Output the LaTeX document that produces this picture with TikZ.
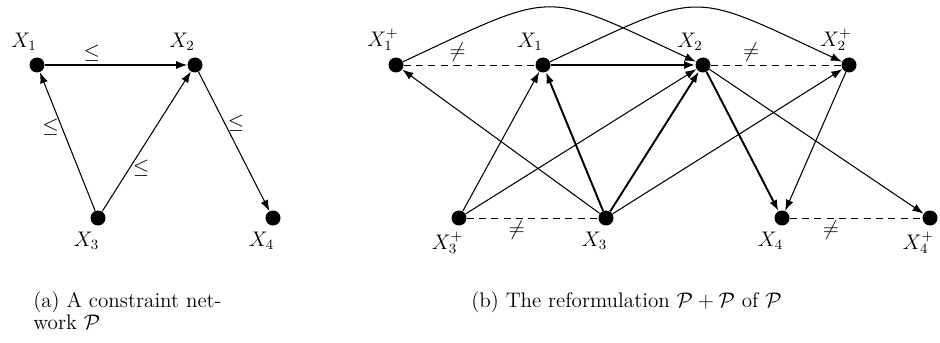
\documentclass[tikz,border=0pt]{standalone}
\usetikzlibrary{positioning,arrows.meta}

\begin{document}
\begin{tikzpicture}[
  every node/.style={font=\fontsize{12}{12.5}\selectfont},
  dot/.style={circle, fill=black, inner sep=0pt, minimum size=3mm},
  arr/.style={-{Latex[length=2.2mm, width=1.6mm]}, line width=0.6pt},
  thickarr/.style={arr, line width=1.1pt},
  neq/.style={dash pattern=on 4pt off 3pt, line width=0.5pt},
  rel/.style={inner sep=1.5pt},
  lblup/.style={label={[xshift=-2.6mm]above:#1}},
  lbldown/.style={label={[xshift=-2.3mm]below:#1}}
]
\useasboundingbox (0,0) rectangle (18.8,6.84);

% (a) the network
\node[dot, lblup={$X_1$}] (a1) at (0.74,5.54) {};
\node[dot, lblup={$X_2$}] (a2) at (3.90,5.54) {};
\node[dot, lbldown={$X_3$}] (a3) at (1.96,2.48) {};
\node[dot, lbldown={$X_4$}] (a4) at (5.46,2.48) {};
\draw[arr] (a1) -- node[rel, pos=0.33, above] {$\leq$} (a2);
\draw[arr] (a3) -- node[rel, pos=0.6, left] {$\leq$} (a1);
\draw[arr] (a3) -- node[rel, pos=0.31, right] {$\leq$} (a2);
\draw[arr] (a2) -- node[rel, pos=0.37, right] {$\leq$} (a4);

% (b) the reformulation
\node[dot, lblup={$X_1^+$}] (b1p) at (7.92,5.54) {};
\node[dot, lblup={$X_1$}] (b1) at (10.86,5.54) {};
\node[dot, lblup={$X_2$}] (b2) at (14.06,5.54) {};
\node[dot, lblup={$X_2^+$}] (b2p) at (16.98,5.54) {};
\node[dot, lbldown={$X_3^+$}] (b3p) at (9.18,2.48) {};
\node[dot, lbldown={$X_3$}] (b3) at (12.12,2.48) {};
\node[dot, lbldown={$X_4$}] (b4) at (15.64,2.48) {};
\node[dot, lbldown={$X_4^+$}] (b4p) at (18.60,2.48) {};

\draw[neq] (b1p) -- node[rel, pos=0.41, above] {$\neq$} (b1);
\draw[neq] (b2) -- node[rel, pos=0.31, above] {$\neq$} (b2p);
\draw[neq] (b3p) -- node[rel, pos=0.38, below] {$\neq$} (b3);
\draw[neq] (b4) -- node[rel, pos=0.31, below] {$\neq$} (b4p);

\draw[arr] (b1p) to[out=25, in=155, looseness=1.5] (b2);
\draw[arr] (b1) to[out=25, in=155, looseness=1.5] (b2p);

\draw[thickarr] (b1) -- (b2);
\draw[thickarr] (b3) -- (b1);
\draw[thickarr] (b3) -- (b2);
\draw[thickarr] (b2) -- (b4);

\draw[arr] (b3) -- (b1p);
\draw[arr] (b3p) -- (b1);
\draw[arr] (b3p) -- (b2);
\draw[arr] (b3) -- (b2p);
\draw[arr] (b2) -- (b4p);
\draw[arr] (b2p) -- (b4);

% captions
\node[anchor=north west, align=left, inner sep=0pt] (capa) at (0.66,1.02)
  {(a) A constraint net-\\work $\mathcal{P}$};
\node[anchor=north west, align=left, inner sep=0pt] (capb) at (9.42,1.02)
  {(b) The reformulation $\mathcal{P}+\mathcal{P}$ of $\mathcal{P}$};
\end{tikzpicture}
\end{document}
